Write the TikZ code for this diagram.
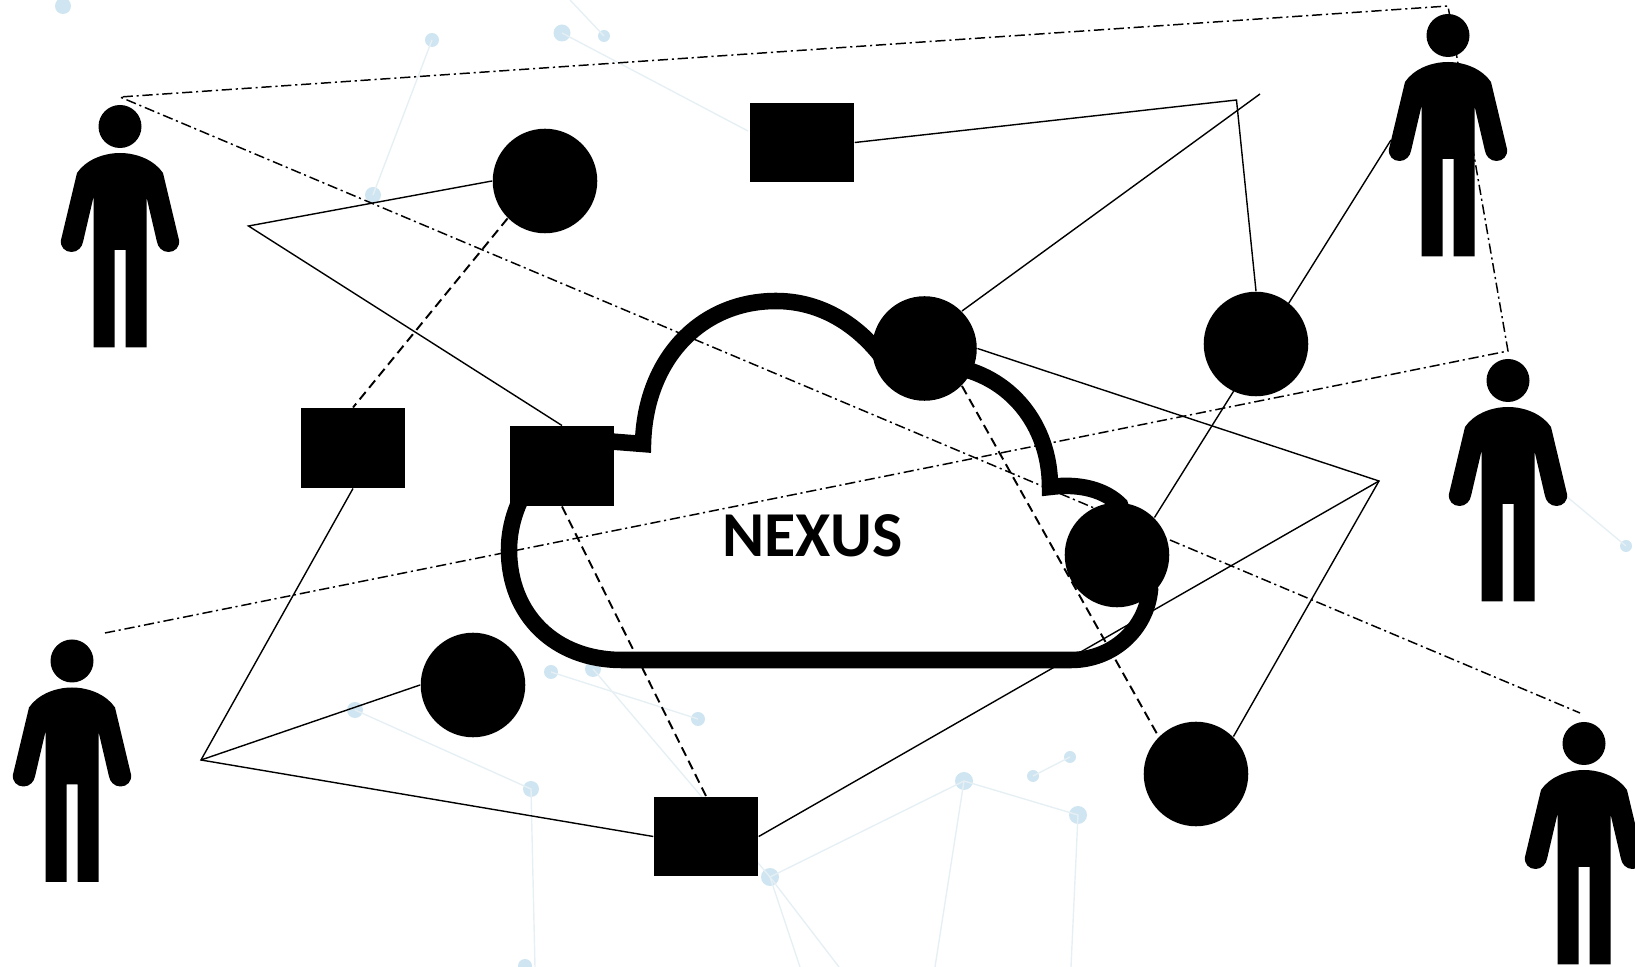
\documentclass[tikz,border=0pt]{standalone}
\usepackage{fontspec}
\setmainfont{Carlito}
\definecolor{dotblue}{HTML}{CFE5F1}
\definecolor{lineblue}{HTML}{E6F0F4}
\tikzset{
	roundnode/.style={circle, fill=black, inner sep=0, minimum size=1.045cm},
	squarenode/.style={rectangle, fill=black, inner sep=0, minimum width=1.04cm, minimum height=0.795cm},
	solidline/.style={line width=0.4pt},
	dashline/.style={line width=0.55pt, dash pattern=on 2.7pt off 1.55pt},
	dotdashline/.style={line width=0.42pt, dash pattern=on 2.9pt off 1.05pt on 0.6pt off 1.1pt},
	netline/.style={draw=lineblue, line width=0.4pt},
	person/.pic={
		\fill [black] (0,21.5) circle (21.5);
		\fill [black] (0,48) .. controls (-18,48) and (-35,56) .. (-43,68) -- (-59,135)
			.. controls (-60,142) and (-55,147) .. (-48.5,147) .. controls (-42,147) and (-38,142) .. (-37,137)
			-- (-26.5,92) -- (-26.5,242.5) -- (-5.5,242.5) -- (-5.5,145) -- (5.5,145) -- (5.5,242.5) -- (26.5,242.5) -- (26.5,92)
			-- (37,137) .. controls (38,142) and (42,147) .. (48.5,147) .. controls (55,147) and (60,142) .. (59,135)
			-- (43,68) .. controls (35,56) and (18,48) .. (0,48) -- cycle;
	}
}

\begin{document}
\begin{tikzpicture}[x=0.01cm, y=-0.01cm]
		\clip (0,0) rectangle (1635,967);

		\foreach \nname/\nx/\ny/\nr in {n1/63/6/8, n2/432/40/7, n3/562/33/8.5, n4/604/36/6, n5/373/195/8, n6/551/672/7, n7/593/669/8, n8/698/719/7, n9/355/710/8, n10/531/789/8, n11/770/877/9, n12/525/966/7, n13/964/781/9, n14/1078/815/9, n15/1033/776/6, n16/1070/757/6, n17/1626/546/6}
			\fill [dotblue] (\nx,\ny) circle (\nr) coordinate (\nname);
		\foreach \nname/\nx/\ny in {e1/570/0, e2/748/131, e3/535/967, e4/800/967, e5/839/967, e6/935/967, e7/1071/967, e8/1560/491}
			\coordinate (\nname) at (\nx,\ny);
		\draw [netline] (n2) -- (n5);
		\draw [netline] (n3) -- (e2);
		\draw [netline] (n4) -- (e1);
		\draw [netline] (n6) -- (n8);
		\draw [netline] (n7) -- (n11);
		\draw [netline] (n9) -- (n10) -- (e3);
		\draw [netline] (n11) -- (n13) -- (n14) -- (e7);
		\draw [netline] (n13) -- (e6);
		\draw [netline] (n11) -- (e4);
		\draw [netline] (n11) -- (e5);
		\draw [netline] (n15) -- (n16);
		\draw [netline] (e8) -- (n17);

		\draw [line width=4.7pt, miter limit=4] (622,660) .. controls (555,660) and (509,615) .. (509,550)
			.. controls (509,495) and (550,441) .. (605,441) -- (643,444)
			.. controls (645,360) and (700,301) .. (776,301) .. controls (822,301) and (862,326) .. (890,368)
			-- (950,366) .. controls (1010,375) and (1050,425) .. (1050,487)
			.. controls (1080,483) and (1105,490) .. (1120,505) -- (1150,590)
			.. controls (1146,630) and (1112,660) .. (1071,660) -- cycle;
		\node (nexus) at (812.5,536) {\fontsize{18.2}{20}\selectfont\bfseries NEXUS};

		\node [roundnode] (circA) at (545,181) {};
		\node [roundnode] (circB) at (924.5,348.5) {};
		\node [roundnode] (circC) at (1256,344) {};
		\node [roundnode] (circD) at (1117,555) {};
		\node [roundnode] (circE) at (473,685) {};
		\node [roundnode] (circF) at (1196,774) {};
		\node [squarenode] (boxA) at (802,142.5) {};
		\node [squarenode] (boxB) at (353,448) {};
		\node [squarenode] (boxC) at (562,466) {};
		\node [squarenode] (boxD) at (706,836.5) {};

		\pic (personA) at (120,105) {person};
		\pic (personB) at (1448,14) {person};
		\pic (personC) at (1508,359) {person};
		\pic (personD) at (72,639.5) {person};
		\pic (personE) at (1584,722) {person};

		\coordinate (bendA) at (248.5,226);
		\coordinate (bendB) at (1236.5,100);
		\coordinate (freeB) at (1260,94);
		\coordinate (armB) at (1391,140);
		\coordinate (bendC) at (1379,481);
		\coordinate (bendD) at (201,760);
		\draw [solidline] (circA.west) -- (bendA) -- (boxC.north);
		\draw [solidline] (boxA.east) -- (bendB) -- (circC.north);
		\draw [solidline] (circB.north east) -- (freeB);
		\draw [solidline] (armB) -- (circD.north east);
		\draw [solidline] (circB.east) -- (bendC) -- (circF.north east);
		\draw [solidline] (boxD.east) -- (bendC);
		\draw [solidline] (boxB.south) -- (bendD) -- (boxD.west);
		\draw [solidline] (circE.west) -- (bendD);

		\draw [dashline] (circA.south west) -- (boxB.north);
		\draw [dashline] (boxC.south) -- (boxD.north);
		\draw [dashline] (circB.south east) -- (circF.north west);

		\coordinate (dotA) at (105,633);
		\coordinate (dotB) at (1508,351);
		\coordinate (dotC) at (1448,6);
		\coordinate (dotD) at (120,97);
		\coordinate (dotE) at (1580,713);
		\draw [dotdashline] (dotA) -- (dotB) -- (dotC) -- (dotD) -- (dotE);

	\end{tikzpicture}
\end{document}
